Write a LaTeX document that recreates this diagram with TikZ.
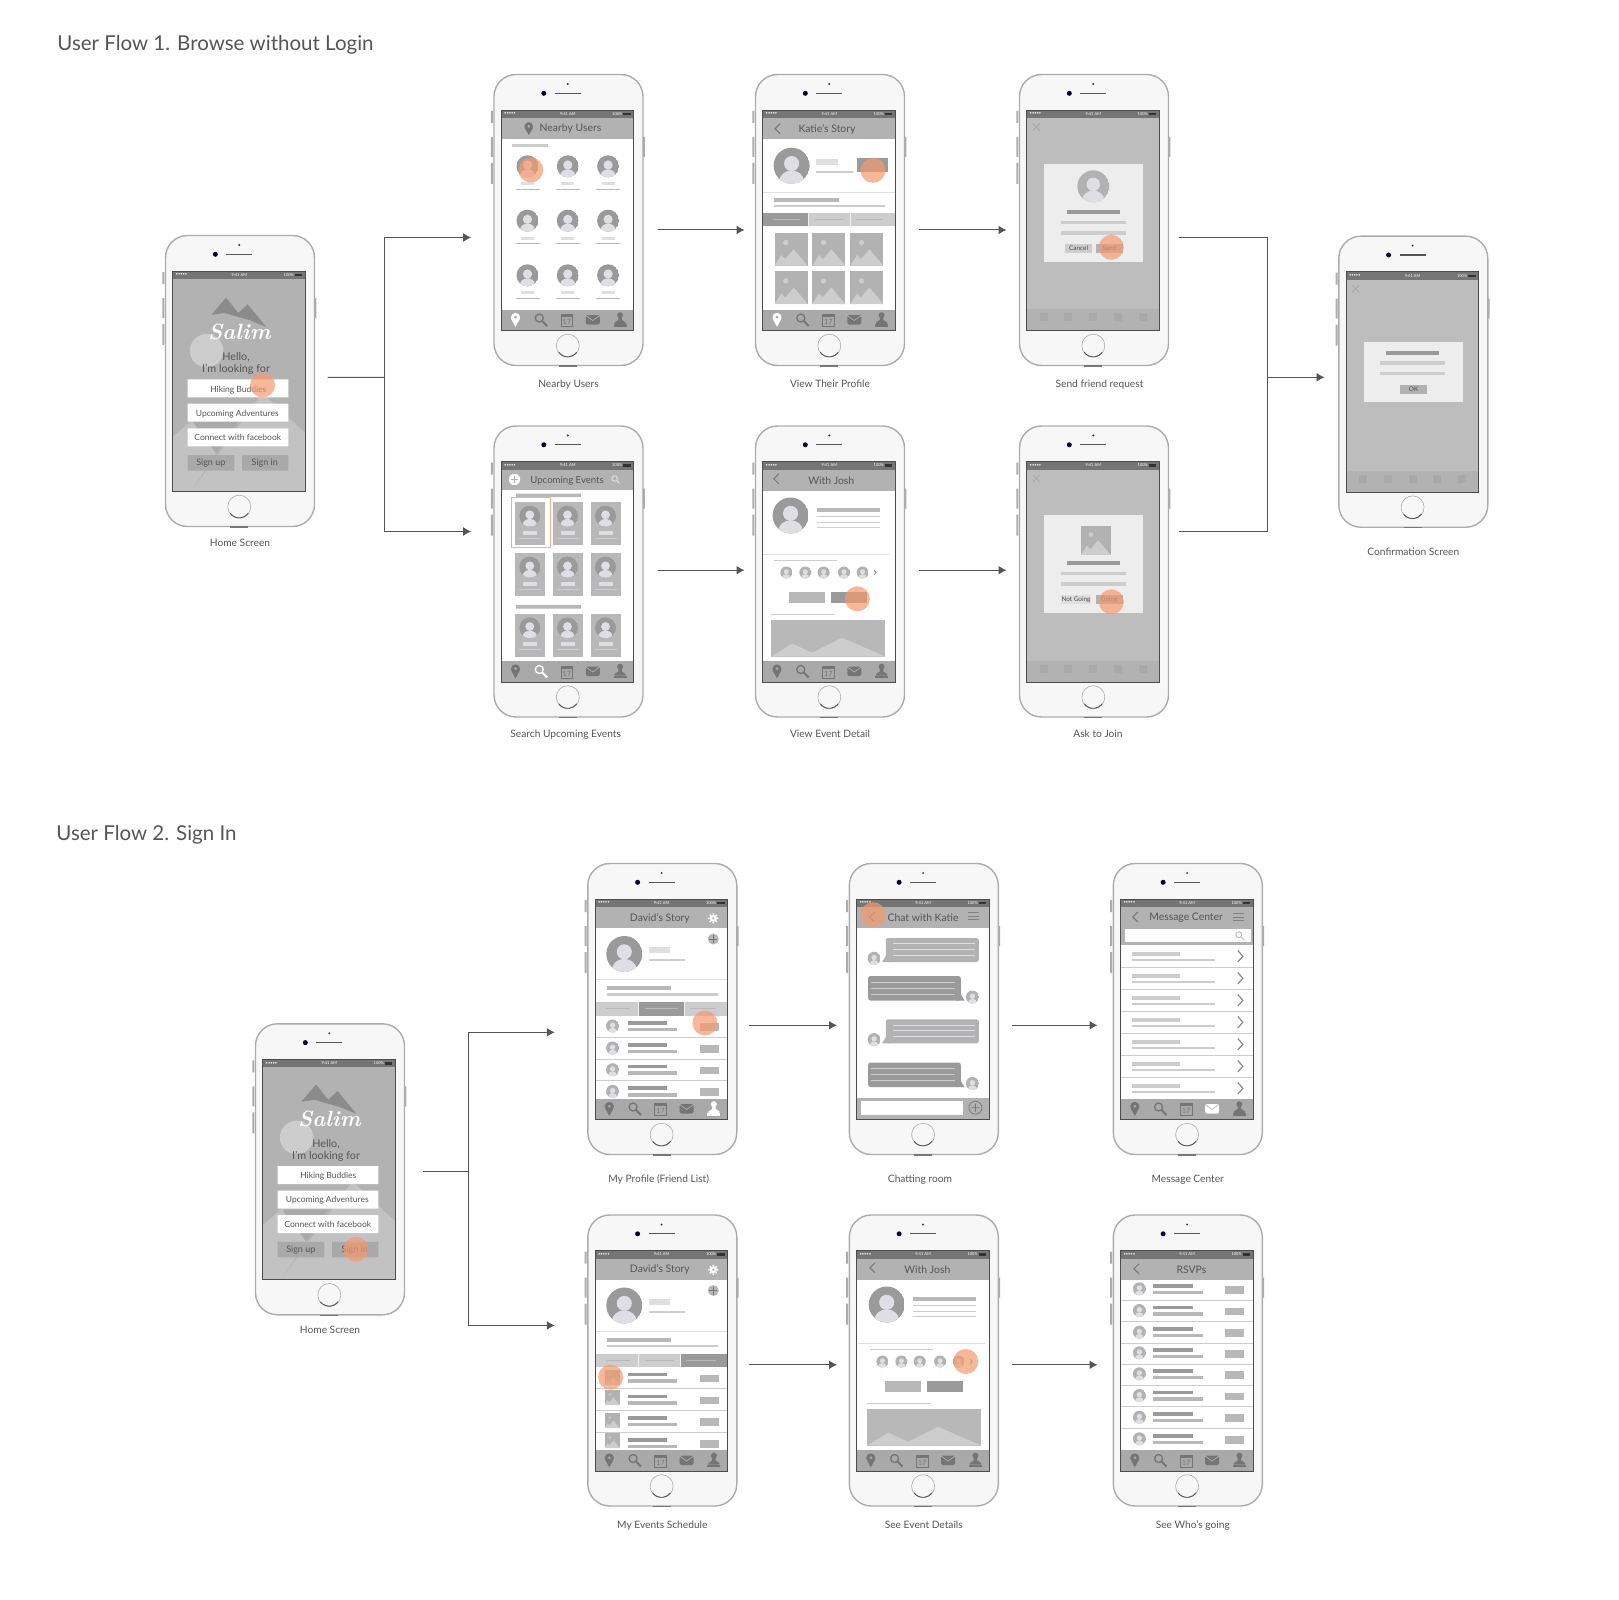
\documentclass[tikz,border=0pt]{standalone}
\usepackage{fontspec}
\setsansfont{Lato}
\usetikzlibrary{positioning, arrows.meta}

\definecolor{inkgray}{HTML}{555555}
\definecolor{phonebody}{HTML}{F7F7F7}
\definecolor{phoneedge}{HTML}{ACACAC}
\definecolor{statusgray}{HTML}{757575}
\definecolor{uigray}{HTML}{B2B2B2}
\definecolor{tabgray}{HTML}{A9A9A9}
\definecolor{dialoggray}{HTML}{BDBDBD}
\definecolor{darkbar}{HTML}{9A9A9A}
\definecolor{midbar}{HTML}{B8B8B8}
\definecolor{lightbar}{HTML}{CDCDCD}
\definecolor{palebar}{HTML}{DEDEE4}
\definecolor{icongray}{HTML}{757575}
\definecolor{tapcolor}{HTML}{F49A70}

% Phone front: buttons, camera, speaker, home button, screen, status bar
\newcommand{\phoneframe}{%
  \fill[phoneedge] (-2,37) rectangle (0,49) (-2,63) rectangle (0,83) (-2,89) rectangle (0,110) (150,63) rectangle (152,83);
  \fill[black!80] (75,10) circle (1.1);
  \fill[black!80!blue] (51,19.3) circle (2.5);
  \draw[inkgray, line width=.65pt] (62,19.3) -- (88,19.3);
  \draw[phoneedge, line width=.3pt] (75,271.7) circle (11.5);
  \draw[inkgray, line width=.45pt] (66,278.4) arc (143:37:11.2);
  \draw[inkgray!80!white, line width=.6pt] (66,292) -- (84,292);
  \fill[white] (8.5,36) rectangle (141,256.5);
  \fill[statusgray] (8.5,36) rectangle (141,44);
  \node[tiny] (clock) at (75,40) {9:41 AM};
  \node[tiny, anchor=west] (signal) at (11,40) {•••••};
  \node[tiny, anchor=east] (battery) at (130,40) {100\%};
  \fill[black!80] (130.5,38.8) rectangle (138,41.2);
}
\newcommand{\screenedge}{\draw[black!70, line width=.4pt] (8.5,36) rectangle (141,256.5);}
\newcommand{\tapmark}[2]{\fill[tapcolor, opacity=.7] (#1,#2) circle (12.5);}

% Tab bar icons, all in the colour iconcol
\newcommand{\iconpin}[1]{%
  \fill[iconcol] (#1,243.4) circle (4.6);
  \fill[iconcol] (#1-4.3,245) -- (#1,252.8) -- (#1+4.3,245) -- cycle;
  \fill[tabgray] (#1,243.2) circle (1.5);
}
\newcommand{\iconlens}[1]{%
  \draw[iconcol, line width=.65pt] (#1-1.8,244) circle (4);
  \draw[iconcol, line width=1pt] (#1+1.2,247) -- (#1+6,252);
}
\newcommand{\iconcal}[1]{%
  \draw[iconcol, line width=.35pt] (#1-5.8,240.5) rectangle (#1+5.8,252.5);
  \fill[iconcol] (#1-5.8,240) rectangle (#1+5.8,243);
  \node[font=\fontsize{3.6}{4}\selectfont\sffamily, text=iconcol, inner sep=0pt] (calday) at (#1,248) {17};
}
\newcommand{\iconmail}[1]{%
  \fill[iconcol, rounded corners=1pt] (#1-7,241) rectangle (#1+7,250.5);
  \draw[tabgray!85!white, line width=.3pt] (#1-7,241.5) -- (#1,246.5) -- (#1+7,241.5);
}
\newcommand{\iconuser}[1]{%
  \fill[iconcol] (#1,241.2) circle (3);
  \fill[iconcol] (#1-1.6,243) -- (#1+1.6,243) -- (#1+1.8,246) -- (#1+5.5,248.5) -- (#1+5.5,250) -- (#1-5.5,250) -- (#1-5.5,248.5) -- (#1-1.8,246) -- cycle;
  \fill[iconcol] (#1-6.5,250) rectangle (#1+6.5,252.5);
}
\newcommand{\tabbar}[1]{%
  \fill[tabgray] (8.5,235.5) rectangle (141,256.5);
  \foreach \i/\x/\k in {1/22.7/pin,2/48.3/lens,3/74/cal,4/100/mail,5/127.3/user}{%
    \ifnum\i=#1 \colorlet{iconcol}{white}\else\colorlet{iconcol}{icongray}\fi
    \csname icon\k\endcsname{\x}%
  }%
}

% Small parts of the screens
\newcommand{\avatar}[4][darkbar]{%
  \begin{scope}
    \clip (#2,#3) circle (#4);
    \fill[#1] (#2,#3) circle (#4);
    \fill[palebar] (#2,#3-.12*#4) circle (.42*#4);
    \fill[palebar] (#2,#3+.85*#4) ellipse (.68*#4 and .58*#4);
  \end{scope}
}
\newcommand{\photo}[4]{%
  \begin{scope}[shift={(#1,#2)}, xscale=#3, yscale=#4]
    \fill[uigray] (0,0) rectangle (1,1);
    \fill[lightbar] (.34,.3) circle (.08);
    \fill[lightbar] (0,1) -- (.2,.68) -- (.32,.8) -- (.58,.5) -- (1,1) -- cycle;
  \end{scope}
}
\newcommand{\appbar}[3][65]{%
  \fill[uigray] (8.5,44) rectangle (141,#1);
  \node[uitext] (apptitle) at (#3,55) {#2};
}
\newcommand{\backmark}[2]{\draw[icongray, line width=.5pt] (#1+2.5,#2-5) -- (#1-2.5,#2) -- (#1+2.5,#2+5);}
\newcommand{\menumark}[2]{\foreach \d in {-3.5,0,3.5} \draw[midbar!70!black, line width=.4pt] (#1-5.5,#2+\d) -- (#1+5.5,#2+\d);}
\newcommand{\rowtext}[1]{%
  \fill[darkbar] (41,#1-5) rectangle (80.5,#1-1.3);
  \fill[midbar] (41,#1+1.7) rectangle (90.5,#1+5.2);
  \fill[midbar] (113,#1-3) rectangle (132,#1+4.7);
  \draw[lightbar, line width=.3pt] (8.5,#1+11) -- (141,#1+11);
}
\newcommand{\tabstrip}[3]{%
  \fill[lightbar] (8.5,139) rectangle (141,152.5);
  \ifcase#1\or
    \fill[darkbar] (8.5,139) rectangle (#2,152.5);\or
    \fill[darkbar] (#2,139) rectangle (#3,152.5);\or
    \fill[darkbar] (#3,139) rectangle (141,152.5);\fi
  \draw[white!70!lightbar, line width=.3pt] (#2,139) -- (#2,152.5) (#3,139) -- (#3,152.5);
  \draw[midbar, line width=.4pt] (19,145.7) -- (#2-8,145.7) (#2+7,145.7) -- (#3-6,145.7) (#3+6,145.7) -- (129,145.7);
}

% Whole screens
\newcommand{\homescreen}[1]{%
  \fill[uigray] (8.5,44) rectangle (141,256.5);
  \fill[dialoggray!92!white] (98,158) -- (141,198) -- (141,256.5) -- (27,256.5) -- cycle;
  \fill[dialoggray!92!white] (8.5,202) -- (28,185) -- (51.7,218) -- (27,256.5) -- (8.5,256.5) -- cycle;
  \fill[tabgray] (28.3,186.7) -- (73.3,186.7) -- (51.7,218) -- cycle;
  \fill[lightbar] (42.3,115.7+#1) circle (16.7);
  \begin{scope}[shift={(0,#1)}]
    \fill[darkbar!90!black] (47,80) -- (61.7,62.7) -- (74,78) -- (83.3,69.3) -- (102,92) -- (85,85) -- (60,78) -- cycle;
    \node[text=white, inner sep=0pt, font=\fontsize{11}{12}\selectfont\rmfamily\bfseries\itshape] (logo) at (75,97) {Salim};
    \node[uitext, font=\fontsize{5.4}{7}\selectfont\sffamily] (hello) at (71.7,122.5) {Hello,};
    \node[uitext, font=\fontsize{5.4}{7}\selectfont\sffamily] (looking) at (71.7,134.5) {I'm looking for};
    \fill[white] (23.3,144.3) rectangle (124,162.3) (23.3,168.7) rectangle (124,186.7) (23.3,193.3) rectangle (124,211.3);
    \fill[tabgray] (23.3,220) rectangle (70,235.5) (77.7,220) rectangle (124,235.5);
    \node[btntext] (hiking) at (74,154.8) {Hiking Buddies};
    \node[btntext] (adventures) at (73,178.7) {Upcoming Adventures};
    \node[btntext] (facebook) at (73.5,202.8) {Connect with facebook};
    \node[btntext, font=\fontsize{4.5}{6}\selectfont\sffamily] (signup) at (46.5,228) {Sign up};
    \node[btntext, font=\fontsize{4.5}{6}\selectfont\sffamily] (signin) at (100.5,228) {Sign in};
  \end{scope}
}
\newcommand{\iconat}[2]{%
  \fill[icongray] (#1,#2-1.5) circle (4.4);
  \fill[icongray] (#1-4.1,#2) -- (#1,#2+7) -- (#1+4.1,#2) -- cycle;
  \fill[uigray] (#1,#2-1.7) circle (1.4);
}
\newcommand{\nearbyscreen}{%
  \appbar{Nearby Users}{77.7}
  \iconat{36}{54}
  \fill[lightbar] (18.7,70) rectangle (54.7,73);
  \foreach \y in {92.3,146.7,201.3} \foreach \x in {34.7,75,115.3} {%
    \avatar{\x}{\y}{11}
    \fill[palebar] (\x-6.5,\y+16) rectangle (\x+6.5,\y+19);
    \draw[midbar, line width=.4pt] (\x-12,\y+23) -- (\x+12,\y+23);
  }
  \tabbar{1}
}
\newcommand{\katiescreen}{%
  \appbar{Katie's Story}{72.7}
  \backmark{23.3}{54.7}
  \avatar{37.3}{91.7}{18}
  \fill[palebar] (61.7,84.7) rectangle (83.3,91);
  \fill[lightbar] (61.7,96.7) rectangle (98.3,99.3);
  \fill[darkbar] (102.7,84.3) rectangle (134,98.3);
  \draw[palebar, line width=.4pt] (8.5,118) -- (141,118);
  \fill[midbar] (20,124.3) rectangle (84.3,128);
  \fill[lightbar] (20,130.7) rectangle (130.7,133);
  \tabstrip{1}{54}{96}
  \foreach \y in {158.7,197} \foreach \x in {20.3,58,96} \photo{\x}{\y}{33}{33};
  \tabbar{1}
}
\newcommand{\dialogbase}{%
  \fill[dialoggray] (8.5,44) rectangle (141,256.5);
  \fill[uigray] (8.5,235) rectangle (141,256.5);
  \foreach \x in {25.3,50,75,99.7,124.3} \fill[tabgray] (\x-4,239) rectangle (\x+4,247);
  \draw[tabgray, line width=.4pt] (14.5,49.5) -- (21.5,56.5) (14.5,56.5) -- (21.5,49.5);
}
\newcommand{\dialoglines}[1]{%
  \fill[darkbar] (48.3,#1) rectangle (101.7,#1+4);
  \fill[lightbar] (42.3,#1+10.5) rectangle (107.7,#1+14);
  \fill[lightbar] (42.3,#1+21) rectangle (107.7,#1+24.5);
}
\newcommand{\requestscreen}{%
  \dialogbase
  \fill[black!7] (25.7,89.7) rectangle (124.7,188.3);
  \avatar[uigray]{75}{112.3}{16}
  \dialoglines{136.3}
  \fill[lightbar] (46.7,169.7) rectangle (74,178.7);
  \fill[uigray] (77.3,169.7) rectangle (104.7,178.7);
  \node[dlgtext] (cancel) at (60.3,174.5) {Cancel};
  \node[dlgtext] (send) at (91,174.5) {Send};
}
\newcommand{\confirmscreen}{%
  \dialogbase
  \fill[black!7] (26.3,106.3) rectangle (125.7,166);
  \dialoglines{115}
  \fill[uigray] (62.7,149.3) rectangle (89.3,158);
  \node[dlgtext] (okay) at (76,154) {OK};
}
\newcommand{\joinscreen}{%
  \dialogbase
  \fill[black!7] (25.7,89) rectangle (124.7,187.3);
  \photo{62.7}{100.3}{29.6}{29}
  \dialoglines{135.7}
  \fill[black!13] (43,169.7) rectangle (73,178);
  \fill[uigray] (77.3,169.7) rectangle (104.7,178);
  \node[dlgtext] (notgoing) at (57.7,174.3) {Not Going};
  \node[dlgtext] (going) at (91,174.3) {Going};
}
\newcommand{\eventscreen}{%
  \appbar[64]{\fontsize{4.8}{6}\selectfont Upcoming Events}{74.3}
  \fill[white] (21.7,54) circle (5.7);
  \draw[uigray, line width=.5pt] (18,54) -- (25.4,54) (21.7,50.3) -- (21.7,57.7);
  \draw[palebar, line width=.5pt] (121.8,53) circle (2.8);
  \draw[palebar, line width=.6pt] (123.8,55) -- (126.8,58);
  \fill[midbar] (23.3,68) rectangle (88,71.7) (23.3,179.3) rectangle (88,183);
  \foreach \y in {76.3,127.3,188} \foreach \x in {22,59.7,97.7} {%
    \fill[midbar] (\x,\y) rectangle (\x+30,\y+43);
    \avatar{\x+15}{\y+14.3}{10.5}
    \fill[palebar] (\x+8.3,\y+28.7) rectangle (\x+22,\y+32.7);
    \draw[lightbar, line width=.3pt] (\x+4,\y+36) -- (\x+26,\y+36);
  }
  \draw[tapcolor!80!white, line width=.6pt] (19,71.7) rectangle (57.3,122.3);
  \tabbar{2}
}
\newcommand{\joshscreen}[1]{%
  \appbar{With Josh}{77+#1}
  \begin{scope}[shift={(#1,0)}]
    \backmark{22}{53.3}
    \avatar{36.3}{90}{18}
    \fill[midbar] (62.3,82.7) rectangle (125.7,86);
    \draw[lightbar, line width=.4pt] (62.3,91.3) -- (125.7,91.3) (62.3,96.7) -- (125.7,96.7) (62.3,102) -- (125.7,102);
    \draw[palebar, line width=.4pt] (8,129) -- (135,129);
    \draw[lightbar, line width=.4pt] (19.3,135.3) -- (82.7,135.3);
    \foreach \x in {32,51,69.3,89.7,108.3} \avatar[uigray]{\x}{147}{6}
    \draw[lightbar!80!black, line width=.3pt] (119.7,144.5) -- (121.7,147) -- (119.7,149.5);
    \fill[midbar] (34.3,166.3) rectangle (71,177.7);
    \fill[darkbar] (76.3,166.3) rectangle (113,177.7);
    \draw[lightbar, line width=.6pt] (17,189.3) -- (80.3,189.3);
    \fill[midbar] (17,194.7) rectangle (131,231);
    \fill[lightbar] (17,231) -- (37.7,218) -- (57.7,227.3) -- (87.7,212.3) -- (131,231) -- cycle;
  \end{scope}
  \tabbar{0}
}
\newcommand{\storyscreen}[2]{%
  \appbar{David's Story}{73.3}
  \foreach \a in {0,45,...,315} \fill[white] (126.7,55.3) ++(\a:4.3) circle (1);
  \fill[white] (126.7,55.3) circle (3.6);
  \fill[uigray] (126.7,55.3) circle (1.2);
  \avatar{37.7}{91}{18}
  \fill[palebar] (62,84) rectangle (83.7,90);
  \fill[lightbar] (62,96) rectangle (98.7,98.3);
  \fill[midbar] (126.7,76) circle (5.5);
  \draw[icongray, line width=.3pt] (122.7,76) -- (130.7,76) (126.7,72) -- (126.7,80);
  \draw[palebar, line width=.4pt] (8.5,116.7) -- (141,116.7);
  \fill[midbar] (20.3,123.3) rectangle (84.7,127.3);
  \fill[lightbar] (20.3,130.3) rectangle (131,132.7);
  \tabstrip{#1}{51.3}{#2}
}
\newcommand{\chatscreen}{%
  \appbar{Chat with Katie}{75}
  \menumark{125.7}{53.3}
  \backmark{24}{54}
  \foreach \y in {75,156.3} {%
    \fill[uigray, rounded corners=1.2pt] (37.7,\y) rectangle (130.7,\y+24);
    \fill[uigray] (37.7,\y+18) -- (34,\y+24) -- (42,\y+24) -- cycle;
    \foreach \d in {5.7,11.3,17} \draw[palebar, line width=.3pt] (44.7,\y+\d) -- (126.7,\y+\d);
    \avatar[uigray]{26}{\y+20.3}{6.5}
  }
  \foreach \y in {113,199.5} {%
    \fill[darkbar, rounded corners=1.2pt] (20,\y) rectangle (112.7,\y+24.5);
    \fill[darkbar] (112.7,\y+18.5) -- (116.5,\y+24.5) -- (108,\y+24.5) -- cycle;
    \foreach \d in {6,12,18} \draw[lightbar, line width=.3pt] (23.3,\y+\d) -- (106.7,\y+\d);
    \avatar[uigray]{124.3}{\y+21}{6.5}
  }
  \fill[uigray] (8.5,234.7) rectangle (141,256.5);
  \fill[white] (12.7,238) rectangle (115,252.3);
  \draw[tabgray!70!black, line width=.35pt] (127.3,244.7) circle (6.5) (123.3,244.7) -- (131.3,244.7) (127.3,240.7) -- (127.3,248.7);
}
\newcommand{\inboxscreen}{%
  \appbar[82]{Message Center}{74}
  \backmark{23.3}{54}
  \menumark{126.7}{54}
  \fill[white] (12.7,65.7) rectangle (139,79.3);
  \draw[uigray, line width=.4pt] (126.7,71.7) circle (3) (128.8,73.8) -- (132.3,77.3);
  \foreach \y in {91,113,135,157,179,201,223} {%
    \fill[lightbar] (20,\y-2) rectangle (68.3,\y+2);
    \fill[lightbar] (20,\y+5) rectangle (102.7,\y+6.5);
    \draw[darkbar!90!black, line width=.6pt] (125.7,\y-3.5) -- (130.7,\y+2.3) -- (125.7,\y+8);
    \draw[lightbar, line width=.3pt] (8.5,\y+13.3) -- (141,\y+13.3);
  }
  \tabbar{4}
}
\newcommand{\rsvpscreen}{%
  \appbar{RSVPs}{79.3}
  \backmark{24.3}{54.3}
  \foreach \y in {74.3,96,117.7,138.3,159.3,181,202.7,224.3} {%
    \avatar[uigray]{27.3}{\y}{6.5}
    \rowtext{\y}
  }
  \tabbar{0}
}
\newcommand{\phonescreen}[2]{%
  \begin{scope}[shift={([shift={(-1.2,-.5)}]#1.north west)}]
    \phoneframe
    #2
    \screenedge
  \end{scope}
}

\begin{document}
\begin{tikzpicture}[x=0.5pt, y=-0.5pt, node distance=30.25pt and 56.25pt]

% Styles
\tikzstyle{phone} = [rectangle, draw=phoneedge, fill=phonebody, line width=.7pt, minimum width=74.5pt, minimum height=145.5pt, rounded corners=11pt, inner sep=0pt, outer sep=0pt]
\tikzstyle{wider} = [node distance=30.25pt and 57.5pt]
\tikzstyle{flowtitle} = [font=\fontsize{10.25}{12}\selectfont\sffamily, text=inkgray, inner sep=0pt, anchor=west]
\tikzstyle{caption} = [font=\fontsize{5.1}{6}\selectfont\sffamily, text=inkgray, inner sep=0pt, text height=4pt, text depth=1pt, yshift=-1.7pt]
\tikzstyle{uitext} = [font=\fontsize{5.2}{6}\selectfont\sffamily, text=inkgray, inner sep=0pt]
\tikzstyle{btntext} = [font=\fontsize{4.25}{5}\selectfont\sffamily, text=inkgray, inner sep=0pt]
\tikzstyle{dlgtext} = [font=\fontsize{3.2}{4}\selectfont\sffamily, text=black!70, inner sep=0pt]
\tikzstyle{tiny} = [font=\fontsize{2}{2.5}\selectfont\sffamily, text=white, inner sep=0pt]
\tikzstyle{flow} = [draw=inkgray, line width=.5pt]
\tikzstyle{flowarrow} = [flow, -{Latex[length=4pt, width=4.4pt]}]

\useasboundingbox (0,0) rectangle (1619,1600);

% Flow titles
\node [flowtitle] (titlea) at (57,44.5) {User Flow 1. Browse without Login};
\node [flowtitle] (titleb) at (56,835) {User Flow 2. Sign In};

% Phones of the first flow
\node [phone] (nearby) at (568.5,220) {};
\node [phone, right=of nearby] (profile) {};
\node [phone, wider, right=of profile] (request) {};
\node [phone, below=of nearby] (events) {};
\node [phone, right=of events] (detail) {};
\node [phone, wider, right=of detail] (join) {};
\node [phone] (home) at (240,381) {};
\node [phone] (confirm) at (1413.3,381.7) {};

% Phones of the second flow
\node [phone] (story) at (662.3,1009) {};
\node [phone, right=of story] (chat) {};
\node [phone, wider, right=of chat] (inbox) {};
\node [phone, below=of story] (schedule) {};
\node [phone, right=of schedule] (details) {};
\node [phone, wider, right=of details] (rsvp) {};
\node [phone] (homeb) at (330,1169.3) {};

% Screens
\phonescreen{home}{\homescreen{0}\tapmark{98.3}{150}}
\phonescreen{nearby}{\nearbyscreen\tapmark{38}{96}}
\phonescreen{profile}{\katiescreen\tapmark{118.7}{96.3}}
\phonescreen{request}{\requestscreen\tapmark{93}{173.3}}
\phonescreen{confirm}{\confirmscreen}
\phonescreen{events}{\eventscreen}
\phonescreen{detail}{\joshscreen{0}\tapmark{103}{173.3}}
\phonescreen{join}{\joinscreen\tapmark{93}{176.3}}
\phonescreen{homeb}{\homescreen{-1.5}\tapmark{101.7}{226}}
\phonescreen{story}{\storyscreen{2}{97.3}\foreach \y in {163,185,206.7,228.3} {\avatar[uigray]{26}{\y}{6.5}\rowtext{\y}}\tabbar{5}\tapmark{118.3}{160}}
\phonescreen{chat}{\chatscreen\tapmark{25}{51.7}}
\phonescreen{inbox}{\inboxscreen}
\phonescreen{schedule}{\storyscreen{3}{93.3}\foreach \y/\t in {163/162.7,185/183,206.7/206,228.3/226} {\rowtext{\y}\photo{18}{\t-7.7}{15.3}{15.3}}\tabbar{0}\tapmark{24}{162.7}}
\phonescreen{details}{\joshscreen{2.3}\tapmark{117.7}{147}}
\phonescreen{rsvp}{\rsvpscreen}

% Captions
\node [caption, below=4pt of home] (caphome) {Home Screen};
\node [caption, below=5pt of nearby] (capnearby) {Nearby Users};
\node [caption, below=5pt of profile] (capprofile) {View Their Profile};
\node [caption, below=5pt of request, xshift=2.75pt] (caprequest) {Send friend request};
\node [caption, below=8pt of confirm] (capconfirm) {Confirmation Screen};
\node [caption, below=4.4pt of events, xshift=-1.4pt] (capevents) {Search Upcoming Events};
\node [caption, below=4.4pt of detail] (capdetail) {View Event Detail};
\node [caption, below=4.4pt of join, xshift=2pt] (capjoin) {Ask to Join};
\node [caption, below=3.5pt of homeb] (caphomeb) {Home Screen};
\node [caption, below=8.3pt of story, xshift=-1.8pt] (capstory) {My Profile (Friend List)};
\node [caption, below=8.3pt of chat, xshift=-1.9pt] (capchat) {Chatting room};
\node [caption, below=8.3pt of inbox] (capinbox) {Message Center};
\node [caption, below=5.5pt of schedule] (capschedule) {My Events Schedule};
\node [caption, below=5.5pt of details] (capdetails) {See Event Details};
\node [caption, below=5.5pt of rsvp, xshift=2.5pt] (caprsvp) {See Who's going};

% Edges
\coordinate (splita) at (384,377.3);
\coordinate (mergea) at (1267.7,377.3);
\coordinate (splitb) at (468.3,1171.3);

\draw[flow] ([shift={(13,-3.7)}]home.east) -- (splita);
\draw[flowarrow] (splita) |- ([shift={(-22.8,17.5)}]nearby.west);
\draw[flowarrow] (splita) |- ([shift={(-22.8,-40)}]events.west);
\draw[flowarrow] ([shift={(14.5,10)}]nearby.east) -- ([shift={(-11,10)}]profile.west);
\draw[flowarrow] ([shift={(14.5,10)}]profile.east) -- ([shift={(-13,10)}]request.west);
\draw[flowarrow] ([shift={(14.5,-1.3)}]events.east) -- ([shift={(-11,-1.3)}]detail.west);
\draw[flowarrow] ([shift={(14.5,-1.3)}]detail.east) -- ([shift={(-13,-1.3)}]join.west);
\draw[flow] ([shift={(10.5,17.3)}]request.east) -| (mergea);
\draw[flow] ([shift={(10.5,-40)}]join.east) -| (mergea);
\draw[flowarrow] (mergea) -- ([shift={(-14.3,-4.4)}]confirm.west);

\draw[flow] ([shift={(18.3,2)}]homeb.east) -- (splitb);
\draw[flowarrow] (splitb) |- ([shift={(-33,23.3)}]story.west);
\draw[flowarrow] (splitb) |- ([shift={(-33,-35)}]schedule.west);
\draw[flowarrow] ([shift={(11.7,16.3)}]story.east) -- ([shift={(-12.3,16.3)}]chat.west);
\draw[flowarrow] ([shift={(13.5,16.3)}]chat.east) -- ([shift={(-15.8,16.3)}]inbox.west);
\draw[flowarrow] ([shift={(11.7,4.3)}]schedule.east) -- ([shift={(-12.3,4.3)}]details.west);
\draw[flowarrow] ([shift={(13.5,4.3)}]details.east) -- ([shift={(-15.8,4.3)}]rsvp.west);

\end{tikzpicture}
\end{document}
